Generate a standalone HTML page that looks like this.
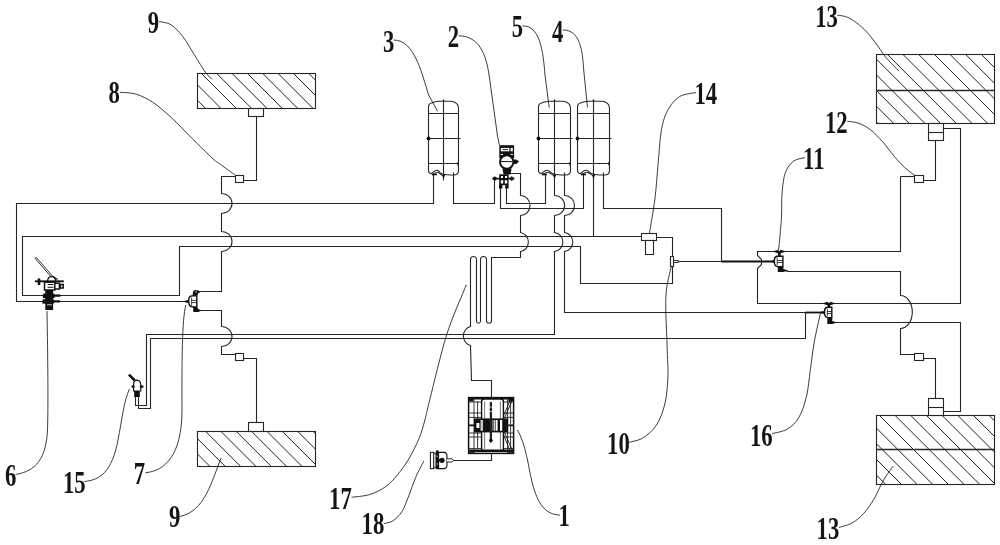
<!DOCTYPE html>
<html><head><meta charset="utf-8"><title>Brake system diagram</title>
<style>
html,body{margin:0;padding:0;background:#fff}
svg{display:block}
.p{fill:none;stroke:#262626;stroke-width:1.1}
.pw{fill:#fff;stroke:#262626;stroke-width:1.1}
.pt{fill:none;stroke:#111;stroke-width:1.8}
.h{fill:none;stroke:#222;stroke-width:1}
.l{fill:none;stroke:#1a1a1a;stroke-width:0.85}
text{font-family:"Liberation Serif",serif;font-size:32px;fill:#151515;font-weight:bold}
</style></head><body>
<svg width="1000" height="545" viewBox="0 0 1000 545">
<rect width="1000" height="545" fill="#fff"/>
<clipPath id="c1"><rect x="197.5" y="73.5" width="118.0" height="35.0"/></clipPath>
<path class="h" clip-path="url(#c1)" d="M170.70 73.5L205.70 108.5M186.05 73.5L221.05 108.5M201.40 73.5L236.40 108.5M216.75 73.5L251.75 108.5M232.10 73.5L267.10 108.5M247.45 73.5L282.45 108.5M262.80 73.5L297.80 108.5M278.15 73.5L313.15 108.5M293.50 73.5L328.50 108.5M308.85 73.5L343.85 108.5"/>
<rect class="p" x="197.5" y="73.5" width="118.0" height="35.0"/>
<clipPath id="c2"><rect x="197.5" y="431.5" width="118.0" height="35.0"/></clipPath>
<path class="h" clip-path="url(#c2)" d="M175.00 431.5L210.00 466.5M190.35 431.5L225.35 466.5M205.70 431.5L240.70 466.5M221.05 431.5L256.05 466.5M236.40 431.5L271.40 466.5M251.75 431.5L286.75 466.5M267.10 431.5L302.10 466.5M282.45 431.5L317.45 466.5M297.80 431.5L332.80 466.5M313.15 431.5L348.15 466.5"/>
<rect class="p" x="197.5" y="431.5" width="118.0" height="35.0"/>
<clipPath id="c3"><rect x="876.5" y="54.5" width="118.0" height="69.0"/></clipPath>
<path class="h" clip-path="url(#c3)" d="M809.05 54.5L878.05 123.5M824.72 54.5L893.72 123.5M840.39 54.5L909.39 123.5M856.06 54.5L925.06 123.5M871.73 54.5L940.73 123.5M887.40 54.5L956.40 123.5M903.07 54.5L972.07 123.5M918.74 54.5L987.74 123.5M934.41 54.5L1003.41 123.5M950.08 54.5L1019.08 123.5M965.75 54.5L1034.75 123.5M981.42 54.5L1050.42 123.5"/>
<rect class="p" x="876.5" y="54.5" width="118.0" height="69.0"/>
<path class="p" style="stroke-width:1.3" d="M876.5 90.5H994.5"/>
<clipPath id="c4"><rect x="876.5" y="415.5" width="118.0" height="69.0"/></clipPath>
<path class="h" clip-path="url(#c4)" d="M816.82 415.5L885.82 484.5M832.49 415.5L901.49 484.5M848.16 415.5L917.16 484.5M863.83 415.5L932.83 484.5M879.50 415.5L948.50 484.5M895.17 415.5L964.17 484.5M910.84 415.5L979.84 484.5M926.51 415.5L995.51 484.5M942.18 415.5L1011.18 484.5M957.85 415.5L1026.85 484.5M973.52 415.5L1042.52 484.5M989.19 415.5L1058.19 484.5"/>
<rect class="p" x="876.5" y="415.5" width="118.0" height="69.0"/>
<path class="p" style="stroke-width:1.3" d="M876.5 449.5H994.5"/>
<rect class="p" x="248.5" y="108.5" width="15.0" height="8.0"/>
<path class="p" d="M256.5 116.5 V180.5 H243.5"/>
<rect class="pw" x="235.5" y="175.5" width="8.0" height="7.0"/>
<path class="p" d="M235.5 176.5 H221.5 V193.5 A10.50 10.00 0 0 1 221.5 213.5 V231.5 A10.50 10.00 0 0 1 221.5 251.5 V291.5 H200.5"/>
<path class="p" d="M200.5 310.5 H221.5 V326.5 A10.50 10.00 0 0 1 221.5 346.5 V354.5 H235.5"/>
<rect class="pw" x="235.5" y="353.5" width="8.0" height="7.0"/>
<path class="p" d="M243.5 358.5 H256.5 V422.5"/>
<rect class="p" x="248.5" y="422.5" width="15.0" height="9.0"/>
<path class="p" d="M433.5 174.5 V203.5 H16.5 V301.5 H44.5"/>
<path class="p" d="M58.5 301.5 H184.5"/>
<path class="p" d="M593.5 176.5 V236.5"/>
<path class="p" d="M641.5 236.5 H22.5 V295.5 H44.5"/>
<path class="p" d="M58.5 295.5 H179.5 V246.5 H580.5 V283.5 H672.5 V237.5 H656.5"/>
<path class="p" d="M494.5 179.5 V203.5 H453.5 V172.5"/>
<path class="p" d="M500.5 186.5 V208.5 H583.5 V174.5"/>
<path class="p" d="M506.5 186.5 V203.5 H545.5 V174.5"/>
<path class="p" d="M508.5 173.5 H520.5 V195.5 A9.20 9.70 0 0 1 520.5 215.5 V232.5 A9.20 9.60 0 0 1 520.5 251.5 V257.5 H491.5 V321.5 A2.65 2.65 0 0 1 486.5 321.5 V259.5 A3 3 0 0 0 480.5 259.5 V321.5 A2.05 2.05 0 0 1 476.5 321.5 V259.5 A2.95 2.95 0 0 0 470.5 259.5 V326.5 A9.40 9.78 0 0 0 470.5 345.5 L471.5 380.5 H491.5 V397.5"/>
<path class="p" d="M554.5 176.5 V195.5 A9.80 9.70 0 0 1 554.5 215.5 V232.5 A9.80 9.60 0 0 1 554.5 251.5 V334.5 H146.5 V405.5 H135.5 V396.5"/>
<path class="p" d="M564.5 172.5 V195.5 A9.70 9.70 0 0 1 564.5 215.5 V232.5 A9.70 9.60 0 0 1 564.5 251.5 V312.5 H806.5"/>
<path class="pt" d="M805.5 312.5 H822.5"/>
<path class="p" d="M805.5 312.5 V338.5 H150.5 V408.5 H138.5 V396.5"/>
<path class="p" d="M603.5 172.5 V208.5 H721.5 V261.5"/>
<path class="p" d="M679.5 261.5 H722.5"/>
<path class="pt" d="M721.5 261.5 H774.5"/>
<path class="p" d="M900.5 176.5 V251.5 H757.5 V255.5 L761.5 259.5 V264.5 L757.5 268.5 V303.5 H960.5 V128.5 H943.5"/>
<path class="p" d="M786.5 271.5 H900.5 V295.5 A11.70 16.35 0 0 1 900.5 328.5 V354.5 H914.5"/>
<rect class="pw" x="914.5" y="353.5" width="9.0" height="7.0"/>
<path class="p" d="M923.5 358.5 H935.5 V398.5"/>
<rect class="pw" x="928.5" y="398.5" width="15.0" height="17.0"/>
<path class="p" d="M928.5 407.5 H943.5"/>
<path class="p" d="M943.5 411.5 H960.5 V322.5 H832.5"/>
<rect class="pw" x="928.5" y="123.5" width="15.0" height="17.0"/>
<path class="p" d="M928.5 132.5 H943.5"/>
<path class="p" d="M935.5 140.5 V180.5 H923.5"/>
<rect class="pw" x="914.5" y="175.5" width="9.0" height="7.0"/>
<path class="p" d="M914.5 176.5 H900.5"/>
<rect class="pw" x="641.5" y="233.5" width="15.0" height="7.0"/>
<rect class="pw" x="645.5" y="240.5" width="8.0" height="14.0"/>
<rect class="pw" x="670.5" y="256.5" width="3.0" height="10.0"/>
<path class="p" d="M673.5 260.5 H677.5 L679.5 261.5 L677.5 262.5 H673.5"/>
<path class="p" d="M428.5 170V107C428.5 104.6 429.8 103.4 432.0 102.8C434.5 101.9 436.5 101.4 439.0 101.3H450.5C453.5 101.5 456.1 102.6 457.6 104.8C458.3 106 458.5 107.5 458.5 109V170.5Q458.5 174.9 453.5 175H449.5C445.5 175 443.5 174.6 441.5 173.6C438.5 172 439.5 170.2 436.9 170.2C434.5 170.2 433.0 172.6 431.3 173.7Q428.5 173.4 428.5 170Z"/>
<path class="p" d="M432.5 174.8C434.5 173.2 436.5 172.3 437.7 172.3C439.5 172.3 439.5 174.2 442.5 175.1"/>
<path class="p" d="M428.5 113.5 H458.5 M427.5 138.5 H460.5 M428.5 163.5 H458.5 M443.5 99.5 V180.5"/>
<circle cx="428.5" cy="138.5" r="1.9" fill="#111"/>
<path fill="#111" d="M441.8 175H445.2L443.5 178.4ZM442.4 101.3H444.6L443.5 99.2ZM457.4 161.5L459.1 163.5L457.4 166Z"/>
<path fill="#111" d="M432.0 173.6H437.0V175.3H432.0Z"/>
<path class="p" d="M538.5 170V107C538.5 104.6 539.8 103.4 542.0 102.8C544.5 101.9 546.5 101.4 549.0 101.3H562.5C565.5 101.5 568.1 102.6 569.6 104.8C570.3 106 570.5 107.5 570.5 109V170.5Q570.5 174.9 565.5 175H560.5C556.5 175 554.5 174.6 552.5 173.6C549.5 172 549.5 170.2 546.9 170.2C544.5 170.2 543.0 172.6 541.3 173.7Q538.5 173.4 538.5 170Z"/>
<path class="p" d="M542.5 174.8C544.5 173.2 546.5 172.3 547.7 172.3C549.5 172.3 550.5 174.2 553.5 175.1"/>
<path class="p" d="M538.5 113.5 H570.5 M537.5 138.5 H572.5 M538.5 163.5 H570.5 M554.5 99.5 V180.5"/>
<circle cx="538.5" cy="138.5" r="1.9" fill="#111"/>
<path fill="#111" d="M552.8 175H556.2L554.5 178.4ZM553.4 101.3H555.6L554.5 99.2ZM569.4 161.5L571.1 163.5L569.4 166Z"/>
<path fill="#111" d="M542.0 173.6H547.0V175.3H542.0Z"/>
<path class="p" d="M577.5 170V107C577.5 104.6 578.8 103.4 581.0 102.8C583.5 101.9 585.5 101.4 588.0 101.3H601.5C604.5 101.5 607.1 102.6 608.6 104.8C609.3 106 609.5 107.5 609.5 109V170.5Q609.5 174.9 604.5 175H599.5C595.5 175 593.5 174.6 591.5 173.6C588.5 172 588.5 170.2 585.9 170.2C583.5 170.2 582.0 172.6 580.3 173.7Q577.5 173.4 577.5 170Z"/>
<path class="p" d="M581.5 174.8C583.5 173.2 585.5 172.3 586.7 172.3C588.5 172.3 589.5 174.2 592.5 175.1"/>
<path class="p" d="M577.5 113.5 H609.5 M576.5 138.5 H611.5 M577.5 163.5 H609.5 M593.5 99.5 V180.5"/>
<circle cx="577.5" cy="138.5" r="1.9" fill="#111"/>
<path fill="#111" d="M591.8 175H595.2L593.5 178.4ZM592.4 101.3H594.6L593.5 99.2ZM608.4 161.5L610.1 163.5L608.4 166Z"/>
<path fill="#111" d="M581.0 173.6H586.0V175.3H581.0Z"/>
<g id="v2">
<rect x="499.3" y="145.2" width="14.8" height="13" fill="#111"/>
<rect x="500.8" y="147.9" width="8.6" height="3.4" fill="#fff"/>
<rect x="510.6" y="147.9" width="2.2" height="3.4" fill="#fff"/>
<path d="M502.6 149.6H508" stroke="#111" stroke-width="0.9"/>
<path d="M500.6 154.4H503M510.6 154.4H513" stroke="#fff" stroke-width="1"/>
<circle cx="506.7" cy="162" r="6.7" fill="#fff" stroke="#111" stroke-width="1.9"/>
<path d="M500.6 161.6H512.8" stroke="#111" stroke-width="1" fill="none"/>
<path d="M514 159.4H516.4L519 161.6L516.4 164H514Z" fill="#111"/>
<path d="M502.4 168.4H511.6L510.4 174.6H503.6Z" fill="#111"/>
<path d="M492.6 178.6H514.2" stroke="#111" stroke-width="1.6"/>
<path d="M492 178.6L494.8 176.2L497.6 178.6L494.8 181ZM514.6 178.6L511.8 176.2L509 178.6L511.8 181Z" fill="#111"/>
<rect x="499.2" y="174.3" width="9.4" height="10.8" fill="#111"/>
<path d="M501 176H503V178H501ZM505 176H507V178H505ZM500.8 180.2H503.2V183.4H500.8ZM504.8 180.2H507.2V183.4H504.8Z" fill="#fff"/>
<path d="M499 184.8H502.4V188.4H499ZM505.2 184.8H508.6V188.4H505.2Z" fill="#111"/>
</g>
<g id="v6">
<path d="M35 258.3L36.2 257.3L52.2 275.8L51 276.8Z" fill="#fff" stroke="#111" stroke-width="0.85"/>
<path d="M47.5 281Q48 276.5 51.5 276.3Q55 276.5 55.8 281" fill="#fff" stroke="#111" stroke-width="1.2"/>
<path d="M35 281.3H63.8" stroke="#111" stroke-width="1.9"/>
<path d="M39 278.4V285" stroke="#111" stroke-width="2.6"/>
<rect x="44.5" y="282.2" width="10.3" height="7.8" fill="#fff" stroke="#111" stroke-width="1.5"/>
<path d="M47.6 284.5H53.5M47.6 287.2H53.5" stroke="#111" stroke-width="1.1"/>
<path d="M55 283.2H59.4V289H55M60.4 284.6H63.2V288H60.4Z" stroke="#111" stroke-width="1.5" fill="none"/><path d="M57.6 279.4L52.8 276.4" stroke="#111" stroke-width="1.2"/>
<rect x="45.3" y="290" width="7.8" height="20" fill="#111"/>
<rect x="42.8" y="293.6" width="12" height="4.6" rx="1.5" fill="#111"/>
<rect x="42.3" y="299.2" width="12" height="4.6" rx="1.5" fill="#111"/>
<path d="M54 295.7H60.5M54 301.4H60" stroke="#111" stroke-width="2.2"/>
<path d="M47 304.8H52" stroke="#fff" stroke-width="0.8"/>
</g>
<path d="M770.0 261.5L774.4 259.8V263.2Z" fill="#111"/>
<path d="M782.9 256.3H777.6Q774.4 256.5 774.4 259.7V262.7Q774.6999999999999 266.7 778.8 266.7H782.9Z" fill="#fff" stroke="#111" stroke-width="1.4"/>
<path d="M777.1999999999999 257.8V265.2M777.1999999999999 260.5H782.9M777.1999999999999 262.5H782.9" stroke="#111" stroke-width="0.8" fill="none"/>
<path d="M772.35 251.5L778.15 249.8L779.15 251.5L778.15 253.2ZM786.35 251.5L780.5500000000001 249.8L779.5500000000001 251.5L780.5500000000001 253.2Z" fill="#111"/>
<path d="M777.85 252.0H780.85L780.5500000000001 256.3H778.15Z" fill="#111"/>
<path d="M777.75 266.7H783.3V268.9L788.5 270.5L783.3 272.1H777.75Z" fill="#111"/>
<path d="M819.0 312.5L824.6 310.8V314.2Z" fill="#111"/>
<path d="M831.8 307.3H827.8000000000001Q824.6 307.5 824.6 310.7V313.7Q824.9 317.7 829.0 317.7H831.8Z" fill="#fff" stroke="#111" stroke-width="1.4"/>
<path d="M827.4 308.8V316.2M827.4 311.5H831.8M827.4 313.5H831.8" stroke="#111" stroke-width="0.8" fill="none"/>
<path d="M821.9000000000001 303.5L827.7 301.8L828.7 303.5L827.7 305.2ZM835.9000000000001 303.5L830.1000000000001 301.8L829.1000000000001 303.5L830.1000000000001 305.2Z" fill="#111"/>
<path d="M827.4000000000001 304.0H830.4000000000001L830.1000000000001 307.3H827.7Z" fill="#111"/>
<path d="M827.3000000000001 317.7H832.1999999999999V320.9L837.4 322.5L832.1999999999999 324.1H827.3000000000001Z" fill="#111"/>
<g id="v7">
<path d="M182.6 301.5L188.8 299.7V303.3Z" fill="#111"/>
<path d="M196.8 295.9H192Q188.8 296.1 188.8 299.3V302.6Q189 306.8 193.2 306.9H196.8Z" fill="#fff" stroke="#111" stroke-width="1.4"/>
<path d="M191.6 297.4V305.4M191.6 300.4H196.8M191.6 302.6H196.8" stroke="#111" stroke-width="0.8" fill="none"/>
<path d="M192.4 295.9L193.2 291.2L195 289.9L198.2 290.4L201.2 291.5L198.4 293.3L197 295.9Z" fill="#111"/>
<path d="M193 306.9H197L198.2 309L201.8 310.5L198.2 312H193.4Z" fill="#111"/>
<circle cx="196" cy="292" r="0.7" fill="#fff"/>
</g>
<g id="v15">
<path d="M128.9 374.6L134.6 380.2" stroke="#111" stroke-width="2.6"/>
<path d="M133.6 391V384Q133.8 380.2 137 380.2Q140.2 380.4 140.8 384.5V391Z" fill="#fff" stroke="#111" stroke-width="1.2"/>
<path d="M131.6 386.6H143.4" stroke="#111" stroke-width="2.4"/>
<rect x="134.6" y="384.8" width="5.2" height="5.2" fill="#fff"/>
<rect x="134.2" y="391" width="5.6" height="6" fill="#111"/>
</g>
<g id="c1g">
<rect x="468.6" y="397.6" width="45" height="55.8" fill="#fff" stroke="#111" stroke-width="1.5"/>
<path d="M468.6 398.6H513.6" stroke="#111" stroke-width="1.6"/>
<path d="M474 397.6V453.4M477.6 401V449M507.6 397.6V453.4M510.6 401V449" stroke="#222" stroke-width="0.9"/>
<path d="M468.6 413H481.6M503.4 413H513.6M468.6 417.4H481.6M503.4 417.4H513.6M468.6 433H481.6M503.4 433H513.6M468.6 437H481.6M503.4 437H513.6M468.6 402H481.6M503.4 402H513.6M468.6 448.6H481.6M503.4 448.6H513.6" stroke="#222" stroke-width="0.9"/>
<rect x="481.6" y="399" width="21.8" height="52" rx="2.6" fill="#fff" stroke="#111" stroke-width="1.4"/>
<path d="M484.6 401.4V449M500.4 401.4V449" stroke="#555" stroke-width="0.8"/>
<path d="M469.2 398.4H473.4V401.4H469.2ZM508.4 398.4H513V401.4H508.4ZM469.2 449.4H474.4V452.8H469.2ZM507.6 449.4H513V452.8H507.6Z" fill="#111"/>
<path d="M475.4 450.8H506.4" stroke="#111" stroke-width="2.6" stroke-linecap="round"/>
<rect x="474" y="418.4" width="34.2" height="14" fill="#111"/>
<path d="M476.4 423H479.4V428H476.4ZM480.6 420H483V430.8H480.6ZM492.6 420H493.4V430.8H492.6ZM494.2 420H495V430.8H494.2ZM495.6 420H497.6V430.8H495.6ZM500 420H502.2V430.8H500Z" fill="#fff"/>
<path d="M481.6 420V430.8M482.6 420V430.8" stroke="#888" stroke-width="0.5"/>
<path d="M490.9 403V441.4" stroke="#222" stroke-width="2.3" stroke-linecap="round"/>
<path d="M489.4 407H492.4M489.4 411.6H492.4" stroke="#fff" stroke-width="0.7"/>
<circle cx="490.9" cy="440.6" r="1.8" fill="#111"/>
<path d="M512 400.6L504.4 418.4M510 400.6L503.6 415.6M504.4 432.4L512.4 450.4M503.6 435L509.6 449.6" stroke="#111" stroke-width="0.9"/>
<path d="M468.6 425.4H474M508.2 425.4H513.6" stroke="#111" stroke-width="1.8"/>
</g>
<path class="p" d="M491.5 453.5 V460.5 H453.5"/>
<g id="p18">
<rect x="430.4" y="452.3" width="3.4" height="16.4" fill="#fff" stroke="#111" stroke-width="1"/>
<rect x="433.8" y="453.3" width="2.2" height="14.4" fill="#fff" stroke="#111" stroke-width="0.8"/>
<rect x="435.8" y="450.4" width="2.8" height="18.8" fill="#111"/>
<path d="M438.6 452.4H444Q447 452.6 447 456V465Q447 468.4 444 468.6H438.6Z" fill="#fff" stroke="#111" stroke-width="1.1"/>
<circle cx="442" cy="460.3" r="2.6" fill="#111"/>
<path d="M437 460.3H440" stroke="#111" stroke-width="2.4"/>
<path d="M447 458.8H452L453.8 460.4L452 462H447" fill="#fff" stroke="#111" stroke-width="0.9"/>
<path d="M436.5 456.2H438M436.5 464H438" stroke="#fff" stroke-width="0.8"/>
</g>
<path class="l" d="M158.9 21.5C160.9 22.1 167.1 22.3 171.0 24.8C174.9 27.3 178.7 31.3 182.6 36.3C186.5 41.2 190.3 48.4 194.2 54.5C198.0 60.6 202.7 68.6 205.7 72.7C208.7 76.8 211.2 78.2 212.3 79.3"/>
<path class="l" d="M119.8 92.3C122.5 92.6 130.8 92.5 136.3 94.2C141.8 95.9 147.1 98.6 152.9 102.4C158.7 106.2 164.4 111.2 171.0 117.3C177.6 123.4 185.6 132.0 192.5 138.8C199.4 145.6 207.5 153.8 212.3 158.2C217.2 162.6 218.9 163.2 221.6 165.2C224.3 167.2 226.3 168.6 228.5 170.2C230.7 171.8 233.8 174.0 234.8 174.8"/>
<path class="l" d="M47 311C47.5 340 48.5 400 47.5 430C46 465 30 472 15.5 474.5"/>
<path class="l" d="M129.5 389C124 400 122 420 118 440C112 472 100 480 84.5 481.5"/>
<path class="l" d="M185.8 305C182 320 181.8 360 182 410C182 455 165 471 145.5 472.7"/>
<path class="l" d="M221.2 457.8C212 480 205 512 179.5 516.5"/>
<path class="l" d="M393.7 40C415 40 422 75 428.7 95L437.5 111.3"/>
<path class="l" d="M458.7 35.8C482 36 487 60 489.5 78L497.5 136L499.4 145"/>
<path class="l" d="M522.5 25.8C540 26 543 50 545 75L549.2 107.5"/>
<path class="l" d="M563 30C580 30 582.5 50 583.7 70L587.5 107.5"/>
<path class="l" d="M466.2 286.0C465.9 286.7 467.5 281.8 464.2 290.0C460.9 298.2 452.3 316.9 446.6 335.0C440.9 353.1 433.6 384.6 430.0 398.8C426.4 413.0 426.7 413.4 424.9 420.0C423.1 426.6 421.8 431.8 419.1 438.3C416.4 444.8 412.4 452.9 408.8 459.0C405.2 465.1 401.1 470.4 397.3 475.0C393.5 479.6 390.5 483.2 385.9 486.5C381.3 489.8 375.5 492.7 369.8 494.5C364.1 496.3 354.6 496.8 351.5 497.3"/>
<path class="l" d="M423.9 461.0C422.5 463.7 418.2 471.5 415.7 477.3C413.2 483.1 411.1 490.0 408.8 495.7C406.5 501.4 404.6 507.5 401.9 511.7C399.2 515.9 395.8 518.9 392.8 520.9C389.8 522.9 385.3 523.1 383.8 523.6"/>
<path class="l" d="M517.5 430C526 445 528 465 532 482C538 505 545 514 560 515.2"/>
<path class="l" d="M696.2 92.5C693.5 93.2 684.4 93.6 679.7 96.5C675.0 99.4 671.0 104.2 668.0 109.7C665.0 115.2 663.1 120.8 661.5 129.6C659.9 138.4 659.3 151.0 658.2 162.6C657.1 174.2 656.4 187.3 654.9 199.0C653.4 210.7 650.4 227.3 649.5 233.0"/>
<path class="l" d="M805.0 157.7C803.1 158.2 797.0 158.5 793.7 161.0C790.4 163.5 787.3 167.3 785.4 172.5C783.5 177.7 782.8 184.7 782.1 192.4C781.4 200.1 782.0 209.2 781.4 218.8C780.8 228.4 779.1 245.0 778.6 250.2"/>
<path class="l" d="M847.3 121.2C849.3 121.6 855.2 121.9 859.1 123.4C863.0 124.9 866.9 127.0 870.8 130.0C874.7 133.1 878.7 137.3 882.6 141.7C886.5 146.1 890.6 152.1 894.3 156.4C898.0 160.7 901.2 164.2 904.6 167.4C908.0 170.6 913.0 174.0 914.7 175.3"/>
<path class="l" d="M837.3 15.1C839.0 15.5 843.9 15.7 847.6 17.3C851.3 18.9 855.7 22.0 859.4 25.0C863.1 28.0 866.4 31.5 869.6 35.2C872.8 38.9 875.8 43.3 878.5 47.0C881.2 50.7 882.4 53.3 885.8 57.3C889.2 61.3 896.8 68.9 899.0 71.2"/>
<path class="l" d="M671.3 266.3C670.4 271.3 666.6 282.9 665.9 296.2C665.2 309.5 666.8 332.8 667.1 346.3C667.4 359.8 668.3 367.5 667.9 377.1C667.5 386.7 666.7 396.1 664.8 404.1C662.9 412.1 660.0 419.7 656.3 425.3C652.6 430.9 647.4 435.2 642.8 438.0C638.2 440.8 631.1 441.6 628.8 442.3"/>
<path class="l" d="M820.8 311.5C819.7 316.6 815.9 332.8 814.2 342.4C812.5 352.0 811.7 360.4 810.4 369.4C809.1 378.4 808.4 388.4 806.5 396.4C804.6 404.4 802.0 412.2 798.8 417.6C795.6 423.1 791.8 426.4 787.3 429.1C782.8 431.8 774.5 432.9 772.0 433.6"/>
<path class="l" d="M893.2 466.0C892.2 467.4 889.0 471.6 887.0 474.7C885.0 477.8 883.5 480.1 881.3 484.3C879.1 488.5 876.5 494.9 873.6 499.7C870.7 504.5 867.4 509.4 863.9 513.2C860.4 517.1 856.6 520.4 852.4 522.8C848.2 525.2 841.1 526.7 838.9 527.5"/>
<g opacity="0.999">
<text transform="translate(147.65 33.4) scale(0.71 1)">9</text>
<text transform="translate(108.4 103.4) scale(0.71 1)">8</text>
<text transform="translate(5.0 485.5) scale(0.71 1)">6</text>
<text transform="translate(63.0 492.5) scale(0.71 1)">15</text>
<text transform="translate(133.75 484.4) scale(0.71 1)">7</text>
<text transform="translate(169.0 527.4) scale(0.71 1)">9</text>
<text transform="translate(383.05 52.1) scale(0.71 1)">3</text>
<text transform="translate(447.75 46.9) scale(0.71 1)">2</text>
<text transform="translate(511.75 36.85) scale(0.71 1)">5</text>
<text transform="translate(552.0 41.6) scale(0.71 1)">4</text>
<text transform="translate(329.1 508.9) scale(0.71 1)">17</text>
<text transform="translate(361.55 533.9) scale(0.71 1)">18</text>
<text transform="translate(558.4 525.85) scale(0.71 1)">1</text>
<text transform="translate(694.45 104.35) scale(0.71 1)">14</text>
<text transform="translate(803.1 169.35) scale(0.71 1)">11</text>
<text transform="translate(825.0 133.0) scale(0.71 1)">12</text>
<text transform="translate(815.25 26.85) scale(0.71 1)">13</text>
<text transform="translate(607.05 453.75) scale(0.71 1)">10</text>
<text transform="translate(750.0 445.5) scale(0.71 1)">16</text>
<text transform="translate(816.6 538.5) scale(0.71 1)">13</text>
</g>
</svg>
</body></html>
